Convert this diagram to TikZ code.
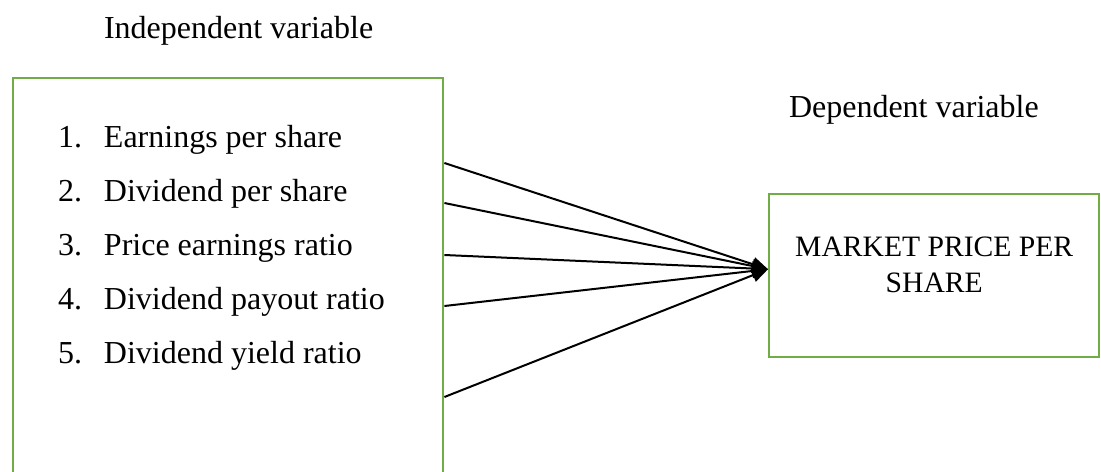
\documentclass[tikz,border=0pt]{standalone}
\usepackage{fontspec}
\setmainfont{Liberation Serif}
\usetikzlibrary{positioning, calc, arrows.meta}
\definecolor{boxgreen}{HTML}{70AD47}

\begin{document}
\begin{tikzpicture} [x = 0.5pt, y = -0.5pt, line width = 1pt, node distance = 27pt,
  font = \fontsize{16}{18.4}\selectfont,
  box/.style = {draw = boxgreen, line width = 1.2pt, inner sep = 0pt, anchor = north west},
  var/.style = {inner sep = 0pt, anchor = base west},
  item/.style = {inner sep = 0pt, text width = 170pt, align = flush left, text height = 11pt, text depth = 4pt},
  tip/.style = {-{Triangle[length = 8pt, width = 7pt]}}]

\useasboundingbox (0,0) rectangle (1101,471);
\clip (0,0) rectangle (1101,471);

\node [var] (xlabel) at (103,38) {Independent variable};
\node [var] (ylabel) at (788,117) {Dependent variable};

\node [box, minimum width = 215pt, minimum height = 210pt] (xbox) at (12,77) {};
\node [box, minimum width = 165pt, minimum height = 81.5pt] (ybox) at (768,193) {};

\node [item, anchor = west] (x1) at (57,140) {\makebox[23pt][l]{1.}Earnings per share};
\node [item] (x2) [below of = x1] {\makebox[23pt][l]{2.}Dividend per share};
\node [item] (x3) [below of = x2] {\makebox[23pt][l]{3.}Price earnings ratio};
\node [item] (x4) [below of = x3] {\makebox[23pt][l]{4.}Dividend payout ratio};
\node [item] (x5) [below of = x4] {\makebox[23pt][l]{5.}Dividend yield ratio};

\node [inner sep = 0pt, align = center, font = \fontsize{14.8}{18}\selectfont] (mpps) at ($(ybox.center)+(0,-11)$) {MARKET PRICE PER\\SHARE};

\coordinate (s1) at ($(xbox.north east)+(0,86)$);
\coordinate (s2) at ($(xbox.north east)+(0,126)$);
\coordinate (s3) at ($(xbox.north east)+(0,178)$);
\coordinate (s4) at ($(xbox.north east)+(0,229)$);
\coordinate (s5) at ($(xbox.north east)+(0,320)$);
\coordinate (t) at ($(ybox.west)+(0,-6.5)$);

\path [tip] (s1) edge (t);
\path [tip] (s2) edge (t);
\path [tip] (s3) edge (t);
\path [tip] (s4) edge (t);
\path [tip] (s5) edge (t);

\end{tikzpicture}
\end{document}
